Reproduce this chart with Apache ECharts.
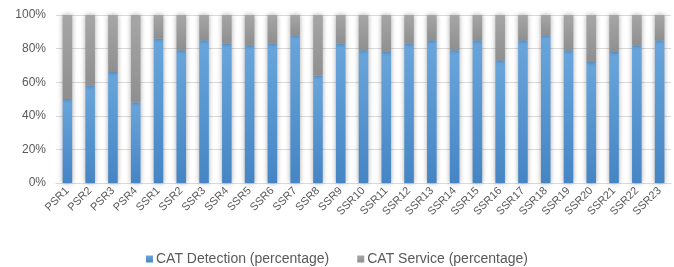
<!DOCTYPE html>
<html>
<head>
<meta charset="utf-8">
<script src="https://cdn.jsdelivr.net/npm/echarts@6/dist/echarts.min.js"></script>
<style>
  html, body { margin: 0; padding: 0; background: #fff; }
  #chart { width: 674px; height: 267px; }
</style>
</head>
<body>
<div id="chart"></div>
<script>
  const categories = ['PSR1', 'PSR2', 'PSR3', 'PSR4', 'SSR1', 'SSR2', 'SSR3', 'SSR4', 'SSR5', 'SSR6', 'SSR7', 'SSR8', 'SSR9',
    'SSR10', 'SSR11', 'SSR12', 'SSR13', 'SSR14', 'SSR15', 'SSR16', 'SSR17', 'SSR18', 'SSR19', 'SSR20', 'SSR21', 'SSR22', 'SSR23'];
  const detection = [50, 58, 66, 48, 86, 79, 85, 83, 82, 83, 88, 64, 83,
    79, 78, 83, 85, 79, 85, 73, 85, 88, 79, 72, 78, 82, 85];
  const service = detection.map(function (v) { return 100 - v; });
  const yTicks = [0, 20, 40, 60, 80, 100];

  var myChart = echarts.init(document.getElementById('chart'));

  var blueFill = new echarts.graphic.LinearGradient(0, 0, 0, 1, [
    { offset: 0, color: '#6aa6dc' },
    { offset: 1, color: '#4585c4' }
  ]);
  var grayFill = new echarts.graphic.LinearGradient(0, 0, 0, 1, [
    { offset: 0, color: '#a6a6a6' },
    { offset: 1, color: '#8f8f8f' }
  ]);

  var option = {
    animation: false,
    grid: { left: 56, right: 3, top: 15, bottom: 84 },
    legend: {
      top: 247,
      left: 'center',
      itemWidth: 7,
      itemHeight: 7,
      itemGap: 28,
      icon: 'rect',
      textStyle: { color: '#595959', fontSize: 14, padding: [0, 0, 0, -2], fontFamily: 'Liberation Sans, Arial' },
      data: ['CAT Detection (percentage)', 'CAT Service (percentage)']
    },
    xAxis: {
      type: 'category',
      data: categories,
      axisLine: { lineStyle: { color: '#d9d9d9' } },
      axisTick: { show: false },
      axisLabel: {
        rotate: 45,
        interval: 0,
        color: '#595959',
        fontSize: 11,
        margin: 6,
        fontFamily: 'Liberation Sans, Arial'
      }
    },
    yAxis: {
      type: 'value',
      min: yTicks[0],
      max: yTicks[yTicks.length - 1],
      interval: 20,
      axisLine: { show: false },
      axisTick: { show: false },
      splitLine: { lineStyle: { color: '#d9d9d9' } },
      axisLabel: {
        formatter: '{value}%',
        color: '#595959',
        fontSize: 12,
        margin: 10,
        fontFamily: 'Liberation Sans, Arial'
      }
    },
    series: [
      {
        name: 'CAT Detection (percentage)',
        type: 'bar',
        stack: 'total',
        barWidth: '42%',
        data: detection,
        itemStyle: {
          color: blueFill,
          shadowColor: 'rgba(0,0,0,0.35)',
          shadowBlur: 5
        }
      },
      {
        name: 'CAT Service (percentage)',
        type: 'bar',
        stack: 'total',
        barWidth: '42%',
        data: service,
        itemStyle: {
          color: grayFill,
          shadowColor: 'rgba(0,0,0,0.35)',
          shadowBlur: 5
        }
      }
    ]
  };

  option && myChart.setOption(option);
</script>
</body>
</html>
